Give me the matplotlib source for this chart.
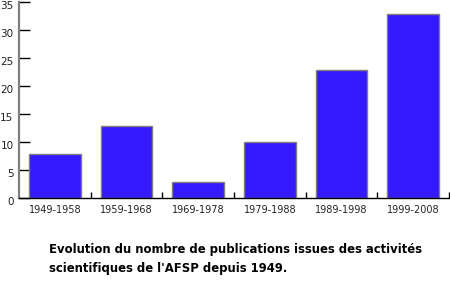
import numpy as np
import matplotlib
matplotlib.use('Agg')
import matplotlib.pyplot as plt
import matplotlib.transforms as mtransforms

# data
periods = ['1949-1958', '1959-1968', '1969-1978', '1979-1988', '1989-1998', '1999-2008']
counts = [8, 13, 3, 10, 23, 33]
yticks = [0, 5, 10, 15, 20, 25, 30, 35]

fig = plt.figure(figsize=(4.5, 2.81), dpi=100)
ax = fig.add_axes([19/450, (281-198.3)/281, 430/450, 196/281])

x = np.arange(len(periods)) + 0.5
ax.bar(x, counts, width=0.72, color='#331aff', edgecolor='#7f7f7f', linewidth=1.0, zorder=2)

ax.set_xlim(0, len(periods))
ax.set_ylim(0, 35)
ax.set_yticks(yticks)
ax.set_xticks(x)
ax.set_xticklabels(periods)
ax.set_xticks(np.arange(1, len(periods) + 1), minor=True)

ax.tick_params(axis='y', direction='in', length=8, width=1, color='black',
               labelsize=7.5, labelcolor='#222222', pad=4)
ax.tick_params(axis='x', which='major', length=0, labelsize=7,
               labelcolor='#222222', pad=5)
ax.tick_params(axis='x', which='minor', direction='in', length=4, width=1, color='black')

# y labels sit a few pixels below their ticks in the reference
shift = mtransforms.ScaledTranslation(0, -3/100, fig.dpi_scale_trans)
for lab in ax.get_yticklabels():
    lab.set_transform(lab.get_transform() + shift)

for s in ['top', 'right']:
    ax.spines[s].set_visible(False)
ax.spines['left'].set_color('#7f7f7f')
ax.spines['left'].set_linewidth(1.6)
ax.spines['bottom'].set_color('black')
ax.spines['bottom'].set_linewidth(1.0)

fig.text(49/450, 1 - 253/281, "Evolution du nombre de publications issues des activités",
         fontsize=8.4, fontweight='bold', color='black', ha='left', va='baseline')
fig.text(49/450, 1 - 272/281, "scientifiques de l'AFSP depuis 1949.",
         fontsize=8.4, fontweight='bold', color='black', ha='left', va='baseline')

fig.savefig('out.png', dpi=100)
